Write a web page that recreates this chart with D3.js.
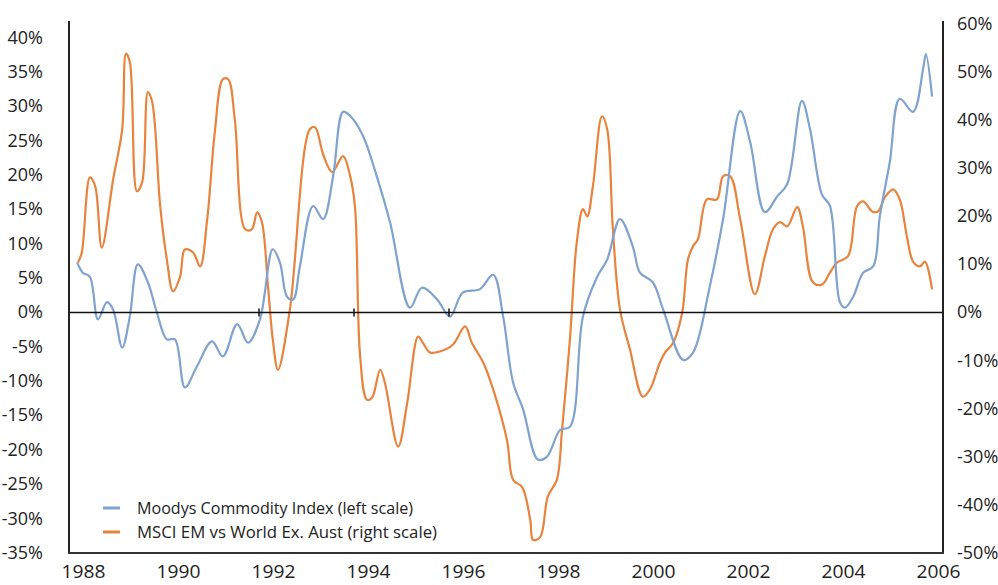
<!DOCTYPE html>
<html><head><meta charset="utf-8">
<script src="https://cdn.jsdelivr.net/npm/d3@7"></script>
<style>
body{margin:0;background:#fff;}
svg{display:block;}
text{font-family:"Open Sans",sans-serif;fill:#222;}
</style>
</head><body>
<svg id="chart" width="998" height="585"></svg>
<script>
// ---- data (decimal years, percent) ----
const moodysYears = [1988.17,1988.29,1988.44,1988.61,1988.80,1988.93,1989.12,1989.28,1989.45,1989.66,1989.85,1990.06,1990.23,1990.44,1990.69,1991.01,1991.24,1991.54,1991.77,1992.02,1992.29,1992.44,1992.59,1992.72,1992.86,1993.14,1993.35,1993.56,1993.77,1993.92,1994.19,1994.48,1994.76,1995.18,1995.43,1995.75,1996.02,1996.29,1996.65,1996.93,1997.14,1997.35,1997.56,1997.87,1998.06,1998.34,1998.55,1998.82,1999.12,1999.33,1999.60,1999.87,2000.02,2000.29,2000.51,2000.93,2001.14,2001.49,2001.77,2002.13,2002.34,2002.65,2002.91,2003.12,2003.43,2003.60,2003.85,2004.02,2004.23,2004.34,2004.51,2004.72,2004.93,2005.07,2005.28,2005.49,2005.77,2005.98,2006.04,2006.17];
const moodysValues = [7.3,5.8,5.2,-1.0,1.5,0.4,-5.1,-0.6,7.0,4.4,0,-3.9,-3.9,-10.9,-7.9,-4.2,-6.4,-1.7,-4.4,-1.0,9.2,7.3,2.3,1.9,6.7,15.5,13.6,19.8,29.2,28.6,25.7,19.8,13.1,0.7,3.6,1.9,-0.6,2.9,3.4,5.5,-0.6,-10.2,-14.1,-21.4,-21.0,-17.1,-16.6,-0.6,5.2,7.7,13.6,9.6,5.8,4.4,0.4,-6.9,-5.8,3.8,13.6,29.3,24.8,14.6,16.9,18.7,30.8,26.7,17.2,15.5,1.5,0.7,2.3,5.8,6.7,14.0,21.9,31.1,29.2,35.4,37.6,31.4];

const msciYears = [1988.19,1988.27,1988.44,1988.55,1988.69,1988.93,1989.12,1989.20,1989.28,1989.43,1989.54,1989.66,1989.75,1989.92,1990.06,1990.19,1990.34,1990.44,1990.61,1990.76,1990.91,1991.07,1991.24,1991.35,1991.49,1991.71,1991.85,1991.96,1992.06,1992.19,1992.29,1992.40,1992.65,1993.07,1993.18,1993.35,1993.54,1993.77,1993.92,1994.02,1994.13,1994.27,1994.38,1994.55,1994.65,1994.93,1995.12,1995.35,1995.45,1995.60,1995.81,1996.08,1996.34,1996.48,1996.72,1996.93,1997.22,1997.35,1997.54,1997.71,1997.77,1997.92,1998.08,1998.27,1998.38,1998.55,1998.69,1998.82,1998.91,1999.03,1999.22,1999.33,1999.45,1999.60,1999.81,2000.08,2000.23,2000.44,2000.55,2000.72,2000.91,2001.03,2001.14,2001.24,2001.43,2001.64,2001.77,2001.92,2002.13,2002.44,2002.65,2002.82,2002.97,2003.12,2003.33,2003.45,2003.66,2003.85,2004.02,2004.17,2004.40,2004.59,2004.72,2004.91,2005.03,2005.18,2005.35,2005.49,2005.64,2005.77,2005.92,2006.02,2006.17];
const msciValues = [10.4,12.5,28.1,26.3,13.5,27.7,38.1,53.8,52.1,25.2,27.1,45.8,43.8,22.1,11.0,4.4,7.5,13.1,12.5,9.6,19.4,37.5,48.5,48.5,40.2,17.3,17.3,20.8,18.8,5.4,-5.6,-11.9,0.6,38.1,38.5,32.9,29.2,32.5,28.3,22.1,-9.2,-18.1,-17.7,-11.9,-14.6,-27.9,-18.8,-5.0,-6.3,-8.3,-8.1,-6.7,-2.9,-6.3,-10.4,-16.0,-26.5,-34.8,-36.3,-43.1,-47.3,-46.7,-38.3,-34.8,-24.4,-5.0,14.6,21.5,20.0,26.3,40.8,38.1,17.3,0.6,-7.7,-17.5,-16.0,-10.4,-8.3,-6.3,0,11.0,13.8,15.2,23.5,23.5,28.3,28.3,19.4,3.8,11.7,17.3,18.8,17.9,21.9,17.9,6.3,5.8,8.3,10.4,11.7,22.1,23.1,21.0,21.0,24.0,25.6,23.5,15.8,10.6,9.6,10.6,4.8];

const yearTicks = [1988,1990,1992,1994,1996,1998,2000,2002,2004,2006];
const leftTicks = [-35,-30,-25,-20,-15,-10,-5,0,5,10,15,20,25,30,35,40];
const rightTicks = [-50,-40,-30,-20,-10,0,10,20,30,40,50,60];
const zeroLineTickYears = [1992,1994,1996];
const seriesNames = ["Moodys Commodity Index (left scale)","MSCI EM vs World Ex. Aust (right scale)"];
const seriesColors = ["#7fa2cf","#e7833c"];

// ---- layout ----
const L = 69, R = 943, T = 21, B = 553, Z = 312.5;
const svg = d3.select("#chart");

const x = d3.scaleLinear().domain([1988, 1988 + (R - L) / 47.5]).range([L, R]);
const yL = d3.scaleLinear().domain([-35, 0]).range([B, Z]);
const yR = d3.scaleLinear().domain([-50, 0]).range([B, Z]);

// y axes labels
const leftAxis = d3.axisLeft(yL).tickValues(leftTicks).tickSize(0).tickPadding(26).tickFormat(d => d + "%");
const gl = svg.append("g").attr("transform", `translate(${L},0)`).call(leftAxis);
gl.select(".domain").remove();
gl.selectAll("text").style("font-size", "18px").style("font-family", '"Open Sans",sans-serif').attr("fill", "#222").attr("dy", "0.3em");

const rightAxis = d3.axisRight(yR).tickValues(rightTicks).tickSize(0).tickPadding(14).tickFormat(d => d + "%");
const gr = svg.append("g").attr("transform", `translate(${R},0)`).call(rightAxis);
gr.select(".domain").remove();
gr.selectAll("text").style("font-size", "18px").style("font-family", '"Open Sans",sans-serif').attr("fill", "#222").attr("dy", "0.3em");

// x axis labels
const bottomAxis = d3.axisBottom(x).tickValues(yearTicks).tickSize(0).tickFormat(d3.format("d"));
const gb = svg.append("g").attr("transform", `translate(0,${B})`).call(bottomAxis);
gb.select(".domain").remove();
gb.selectAll("text").style("font-size", "18px").style("font-family", '"Open Sans",sans-serif').attr("fill", "#222")
  .attr("dy", null).attr("y", 25).attr("dx", 14)
  .attr("textLength", 44).attr("lengthAdjust", "spacingAndGlyphs");

// frame
svg.append("line").attr("x1", L).attr("x2", L).attr("y1", T).attr("y2", B + 1).attr("stroke", "#222").attr("stroke-width", 2);
svg.append("line").attr("x1", R).attr("x2", R).attr("y1", T).attr("y2", B + 1).attr("stroke", "#222").attr("stroke-width", 2);
svg.append("line").attr("x1", L - 1).attr("x2", R + 1).attr("y1", B).attr("y2", B).attr("stroke", "#333").attr("stroke-width", 2);

// lines
const moodys = moodysYears.map((t, i) => [t, moodysValues[i]]);
const msci = msciYears.map((t, i) => [t, msciValues[i]]);
const lineL = d3.line().x(d => x(d[0])).y(d => yL(d[1])).curve(d3.curveCatmullRom.alpha(0.5));
const lineR = d3.line().x(d => x(d[0])).y(d => yR(d[1])).curve(d3.curveCatmullRom.alpha(0.5));

svg.append("path").datum(msci).attr("d", lineR).attr("fill", "none").attr("stroke", seriesColors[1]).attr("stroke-width", 2.2).attr("stroke-linejoin", "round");
svg.append("path").datum(moodys).attr("d", lineL).attr("fill", "none").attr("stroke", seriesColors[0]).attr("stroke-width", 2.2).attr("stroke-linejoin", "round");

// zero line
svg.append("line").attr("x1", L).attr("x2", R).attr("y1", yL(0)).attr("y2", yL(0)).attr("stroke", "#111").attr("stroke-width", 1.6);
svg.selectAll(".ztick").data(zeroLineTickYears).join("line")
  .attr("x1", d => x(d)).attr("x2", d => x(d))
  .attr("y1", yL(0) - 4).attr("y2", yL(0) + 4).attr("stroke", "#111").attr("stroke-width", 1.5);

// legend
const legendRows = [508, 532];
const legendWidths = [276, 300];
seriesNames.forEach((name, i) => {
  svg.append("line").attr("x1", 103).attr("x2", 120).attr("y1", legendRows[i]).attr("y2", legendRows[i])
    .attr("stroke", seriesColors[i]).attr("stroke-width", 3);
  svg.append("text").attr("x", 137).attr("y", legendRows[i]).attr("dy", "0.35em")
    .style("font-size", "16px").attr("textLength", legendWidths[i]).attr("lengthAdjust", "spacingAndGlyphs")
    .text(name);
});
</script>
</body></html>
